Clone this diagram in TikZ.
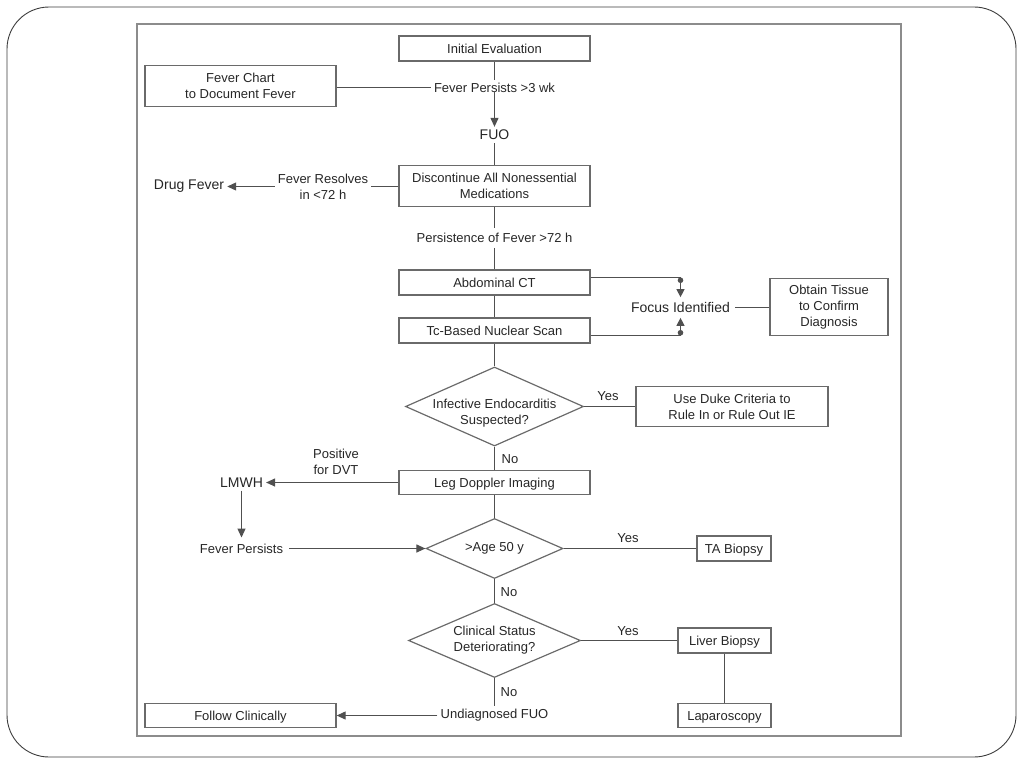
\documentclass[tikz,border=0pt]{standalone}
\usepackage{fontspec}
\setmainfont{Liberation Sans}
\usetikzlibrary{shapes.geometric,arrows.meta}
\definecolor{ln}{HTML}{505050}
\definecolor{bx}{HTML}{6A6A6A}
\definecolor{txt}{HTML}{262626}
\definecolor{frame}{HTML}{8C8C8C}
\definecolor{outer}{HTML}{3C3C3C}
\begin{document}
\begin{tikzpicture}[x=1pt,y=-1pt,
  every node/.style={text=txt, font=\fontsize{13}{16}\selectfont, align=center},
  box/.style={draw=bx, line width=1.3pt, inner sep=0pt},
  one/.style={text height=9.4pt, text depth=0pt},
  lbl/.style={inner sep=3pt},
  big/.style={inner sep=3pt, font=\fontsize{14}{17}\selectfont},
  dia/.style={draw=bx, line width=1.2pt, diamond, inner sep=0pt, aspect=2},
  conn/.style={draw=ln, line width=1.1pt},
  arr/.style={conn, -{Triangle[length=9pt,width=8pt]}},
  dotarr/.style={conn, {Circle[length=5.5pt]}-{Triangle[length=8pt,width=8pt]}}
]
\useasboundingbox (0,0) rectangle (1024,768);
% outer rounded frame and inner frame
\draw[outer, line width=0.9pt, rounded corners=42pt] (7,7) rectangle (1016,757);
\draw[frame, line width=1.6pt] (137,24) rectangle (901,736);

% nodes
\node[box, one, minimum width=191pt, minimum height=25pt] (init) at (494.5,48.5) {Initial Evaluation};
\node[box, minimum width=191pt, minimum height=41pt] (chart) at (240.5,86) {Fever Chart\\to Document Fever};
\node[lbl] (fp) at (494.5,87.5) {Fever Persists >3 wk};
\node[big] (fuo) at (494.5,135) {FUO};
\node[box, minimum width=191pt, minimum height=41pt] (disc) at (494.5,186) {Discontinue All Nonessential\\Medications};
\node[lbl] (fr) at (323,186.5) {Fever Resolves\\in <72 h};
\node[big] (drug) at (189,186.5) {Drug Fever};
\node[lbl, inner sep=5pt] (pers) at (494.5,238) {Persistence of Fever >72 h};
\node[box, one, minimum width=191pt, minimum height=25pt] (ct) at (494.5,282.5) {Abdominal CT};
\node[box, one, minimum width=191pt, minimum height=25pt] (tc) at (494.5,330.5) {Tc-Based Nuclear Scan};
\node[big, inner sep=5pt] (focus) at (680.5,307.5) {Focus Identified};
\node[box, minimum width=118pt, minimum height=57pt] (tissue) at (829,307) {Obtain Tissue\\to Confirm\\Diagnosis};
\coordinate (fa) at (680.5,277.5);
\coordinate (fb) at (680.5,335.5);

\node[dia, minimum width=178pt, minimum height=79pt,
  label={[align=center, yshift=-7pt]center:Infective Endocarditis\\Suspected?}] (d1) at (494.5,406.5) {};
\node[box, minimum width=192pt, minimum height=40pt] (duke) at (732,406.5) {Use Duke Criteria to\\Rule In or Rule Out IE};
\node[lbl] (yes1) at (608,396) {Yes};
\node[lbl] (no1) at (510,459) {No};

\node[box, one, minimum width=191pt, minimum height=24pt] (leg) at (494.5,482.5) {Leg Doppler Imaging};
\node[lbl] (dvt) at (336,462) {Positive\\for DVT};
\node[big] (lmwh) at (241.5,482.5) {LMWH};
\node[lbl, inner sep=6pt] (fp2) at (241.5,548.5) {Fever Persists};

\node[dia, minimum width=137pt, minimum height=60pt,
  label={center:>Age 50 y}] (d2) at (494.5,548.5) {};
\node[lbl] (yes2) at (628,538) {Yes};
\node[box, one, minimum width=74pt, minimum height=25pt] (ta) at (734,548.5) {TA Biopsy};
\node[lbl] (no2) at (509,592) {No};

\node[dia, minimum width=172pt, minimum height=74pt,
  label={[align=center]center:Clinical Status\\Deteriorating?}] (d3) at (494.5,640.5) {};
\node[lbl] (yes3) at (628,631) {Yes};
\node[box, one, minimum width=93pt, minimum height=25pt] (liver) at (724.5,640.5) {Liver Biopsy};
\node[box, one, minimum width=93pt, minimum height=24pt] (lap) at (724.5,715.5) {Laparoscopy};
\node[lbl] (no3) at (509,692) {No};
\node[lbl] (ufuo) at (494.5,715.5) {Undiagnosed FUO};
\node[box, one, minimum width=191pt, minimum height=24pt] (follow) at (240.5,715.5) {Follow Clinically};

% connectors
\draw[conn] (init.south) -- (fp.north);
\draw[conn] (chart.east |- fp.west) -- (fp.west);
\draw[arr] ([yshift=3pt]fp.south) -- (fuo.north);
\draw[conn] (fuo.south) -- (disc.north);
\draw[conn] (disc.west |- fr.east) -- (fr.east);
\draw[arr] (fr.west) -- (drug.east);
\draw[conn] (disc.south) -- (pers.north);
\draw[conn] (pers.south) -- (ct.north);
\draw[conn] (ct.south) -- (tc.north);
\draw[conn] (ct.east |- fa) -- (fa);
\draw[conn] (tc.east |- fb) -- (fb);
\draw[dotarr] (fa) -- (focus.north);
\draw[dotarr] (fb) -- (focus.south);
\draw[conn] (focus.east) -- (tissue.west |- focus.east);
\draw[conn] (tc.south) -- (d1.north);
\draw[conn] (d1.east) -- (duke.west);
\draw[conn] (d1.south) -- (leg.north);
\draw[arr] (leg.west) -- (lmwh.east);
\draw[arr] (lmwh.south) -- (fp2.north);
\draw[arr] (fp2.east |- d2.west) -- (d2.west);
\draw[conn] (leg.south) -- (d2.north);
\draw[conn] (d2.east) -- (ta.west);
\draw[conn] (d2.south) -- (d3.north);
\draw[conn] (d3.east) -- (liver.west);
\draw[conn] (liver.south) -- (lap.north);
\draw[conn] (d3.south) -- (ufuo.north);
\draw[arr] (ufuo.west) -- (follow.east);
\end{tikzpicture}
\end{document}
